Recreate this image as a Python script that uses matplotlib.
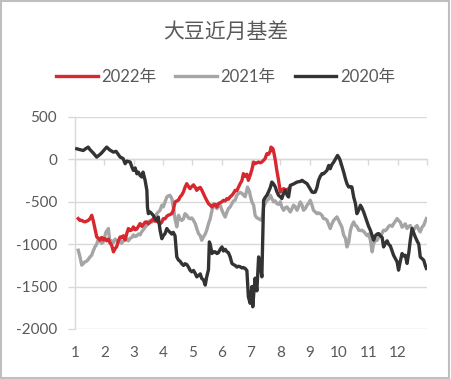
import matplotlib
matplotlib.use("Agg")
import matplotlib.pyplot as plt
from matplotlib.patches import Rectangle

plt.rcParams['font.family'] = ['Lato', 'Noto Sans CJK SC', 'DejaVu Sans']

title = "大豆近月基差"
series_names = ["2022年", "2021年", "2020年"]
month_labels = ["1", "2", "3", "4", "5", "6", "7", "8", "9", "10", "11", "12"]
y_ticks = [500, 0, -500, -1000, -1500, -2000]

# ---- 2022 ----
x2022 = [1.11, 1.17, 1.23, 1.28, 1.34, 1.45, 1.51, 1.57, 1.62, 1.68, 1.74, 1.80, 1.85, 1.91, 1.97,
         2.02, 2.08, 2.14, 2.19, 2.25, 2.31, 2.37, 2.42, 2.48, 2.54, 2.59, 2.65, 2.71, 2.76, 2.82,
         2.88, 2.94, 2.99, 3.05, 3.11, 3.16, 3.22, 3.28, 3.33, 3.39, 3.45, 3.50, 3.56, 3.62, 3.67,
         3.73, 3.79, 3.84, 3.90, 3.96, 4.01, 4.07, 4.13, 4.18, 4.24, 4.30, 4.35, 4.41, 4.47, 4.53,
         4.58, 4.64, 4.70, 4.75, 4.81, 4.87, 4.92, 4.98, 5.04, 5.10, 5.15, 5.21, 5.27, 5.32, 5.38,
         5.44, 5.49, 5.55, 5.61, 5.67, 5.72, 5.78, 5.84, 5.89, 5.95, 6.01, 6.06, 6.12, 6.18, 6.23,
         6.29, 6.35, 6.40, 6.46, 6.52, 6.57, 6.63, 6.69, 6.74, 6.80, 6.86, 6.91, 6.97, 7.03, 7.09,
         7.14, 7.20, 7.26, 7.31, 7.37, 7.43, 7.48, 7.54, 7.60, 7.66, 7.68, 7.75, 7.79, 7.83, 7.88,
         7.94, 8.00, 8.05, 8.11, 8.17, 8.23, 8.28]
v2022 = [-698, -720, -718, -730, -737, -720, -700, -659, -720, -815, -914, -930, -953, -920, -950,
         -933, -960, -940, -980, -1012, -1090, -1050, -1030, -960, -914, -920, -900, -950, -880, -815,
         -840, -830, -796, -830, -820, -790, -757, -790, -770, -740, -737, -760, -740, -720, -698,
         -730, -720, -740, -760, -740, -698, -700, -670, -659, -650, -640, -600, -502, -490, -480,
         -443, -420, -380, -330, -286, -320, -345, -320, -300, -330, -365, -340, -330, -360, -404,
         -450, -482, -521, -540, -561, -540, -530, -561, -521, -510, -500, -482, -490, -462, -470,
         -440, -424, -400, -365, -370, -330, -286, -250, -168, -200, -175, -247, -188, -120, -31,
         -50, -40, -31, -40, -31, -10, 8, 67, 60, 100, 145, 125, 60, -12, -130,
         -247, -385, -360, -345, -355, -365, -345]

# ---- 2021 ----
x2021 = [1.11, 1.17, 1.23, 1.28, 1.34, 1.40, 1.45, 1.51, 1.57, 1.62, 1.68, 1.74, 1.80, 1.85, 1.91,
         1.97, 2.02, 2.06, 2.14, 2.19, 2.25, 2.31, 2.37, 2.42, 2.48, 2.54, 2.59, 2.65, 2.71, 2.76,
         2.82, 2.88, 2.94, 2.99, 3.05, 3.11, 3.16, 3.22, 3.28, 3.33, 3.39, 3.45, 3.50, 3.56, 3.62,
         3.67, 3.73, 3.79, 3.84, 3.90, 3.96, 4.01, 4.07, 4.13, 4.18, 4.24, 4.30, 4.35, 4.41, 4.47,
         4.53, 4.58, 4.64, 4.70, 4.75, 4.81, 4.87, 4.92, 4.98, 5.04, 5.10, 5.15, 5.21, 5.27, 5.32,
         5.38, 5.44, 5.49, 5.55, 5.61, 5.67, 5.72, 5.78, 5.84, 5.89, 5.95, 6.01, 6.06, 6.12, 6.18,
         6.23, 6.29, 6.35, 6.40, 6.46, 6.52, 6.57, 6.63, 6.69, 6.74, 6.80, 6.86, 6.88, 6.95, 6.97,
         7.03, 7.09, 7.14, 7.20, 7.26, 7.31, 7.37, 7.43, 7.48, 7.54, 7.60, 7.66, 7.71, 7.77, 7.83,
         7.88, 7.94, 8.00, 8.05, 8.11, 8.17, 8.23, 8.28, 8.34, 8.40, 8.45, 8.51, 8.57, 8.62, 8.68,
         8.74, 8.79, 8.85, 8.91, 8.96, 9.02, 9.08, 9.13, 9.19, 9.25, 9.30, 9.36, 9.42, 9.47, 9.53,
         9.59, 9.65, 9.70, 9.76, 9.82, 9.87, 9.93, 9.99, 10.04, 10.10, 10.16, 10.22, 10.27, 10.33, 10.39,
         10.44, 10.50, 10.56, 10.61, 10.67, 10.73, 10.78, 10.84, 10.90, 10.96, 11.01, 11.07, 11.13, 11.18, 11.24,
         11.30, 11.35, 11.41, 11.47, 11.52, 11.58, 11.64, 11.69, 11.75, 11.81, 11.86, 11.92, 11.98, 12.03, 12.09,
         12.15, 12.21, 12.26, 12.32, 12.38, 12.43, 12.49, 12.54, 12.60, 12.66, 12.72, 12.77, 12.83, 12.89, 12.94,
         12.98]
v2021 = [-1071, -1150, -1247, -1230, -1208, -1200, -1180, -1150, -1130, -1080, -1032, -1000, -933, -960, -990,
         -973, -900, -855, -815, -992, -960, -980, -940, -960, -980, -950, -990, -960, -950, -940,
         -960, -930, -920, -890, -910, -900, -880, -890, -850, -830, -800, -776, -750, -720, -740,
         -718, -700, -640, -620, -600, -540, -560, -500, -443, -430, -424, -460, -560, -700, -796,
         -660, -700, -720, -700, -640, -659, -690, -700, -690, -720, -757, -815, -875, -900, -953,
         -914, -880, -835, -760, -698, -600, -521, -560, -580, -540, -540, -600, -640, -680, -620,
         -580, -560, -521, -490, -480, -420, -404, -390, -400, -420, -440, -360, -326, -380, -420,
         -500, -541, -659, -690, -698, -710, -718, -561, -520, -482, -470, -424, -460, -500, -490,
         -521, -530, -500, -560, -600, -570, -560, -590, -620, -580, -540, -560, -600, -560, -502,
         -540, -600, -580, -540, -520, -482, -540, -600, -620, -640, -630, -640, -660, -698, -700,
         -718, -770, -815, -760, -718, -700, -678, -720, -757, -800, -894, -930, -1032, -980, -835,
         -780, -737, -780, -790, -835, -840, -835, -850, -875, -900, -880, -950, -1090, -990, -960,
         -953, -920, -900, -870, -835, -840, -820, -790, -776, -790, -760, -730, -698, -720, -740,
         -800, -780, -760, -815, -790, -780, -820, -835, -800, -780, -830, -855, -800, -776, -730,
         -698]

# ---- 2020 ----
x2020 = [1.06, 1.17, 1.28, 1.38, 1.45, 1.51, 1.61, 1.74, 1.89, 2.08, 2.19, 2.31, 2.40, 2.54, 2.64,
         2.71, 2.77, 2.88, 2.94, 2.99, 3.05, 3.11, 3.16, 3.22, 3.28, 3.32, 3.39, 3.45, 3.47, 3.50,
         3.56, 3.67, 3.73, 3.79, 3.84, 3.90, 3.96, 4.01, 4.07, 4.13, 4.18, 4.30, 4.35, 4.41, 4.47,
         4.53, 4.58, 4.64, 4.70, 4.75, 4.81, 4.87, 4.92, 4.98, 5.04, 5.10, 5.15, 5.21, 5.27, 5.32,
         5.38, 5.44, 5.49, 5.55, 5.58, 5.61, 5.67, 5.72, 5.78, 5.84, 5.89, 5.95, 6.01, 6.06, 6.12,
         6.18, 6.23, 6.29, 6.35, 6.40, 6.46, 6.52, 6.57, 6.63, 6.69, 6.74, 6.80, 6.86, 6.91, 6.97,
         7.03, 7.06, 7.09, 7.14, 7.20, 7.26, 7.31, 7.37, 7.41, 7.43, 7.48, 7.54, 7.60, 7.66, 7.71,
         7.77, 7.83, 7.88, 7.94, 8.00, 8.05, 8.11, 8.17, 8.23, 8.28, 8.34, 8.45, 8.57, 8.68, 8.74,
         8.79, 8.91, 9.02, 9.08, 9.13, 9.19, 9.25, 9.30, 9.36, 9.42, 9.47, 9.53, 9.59, 9.65, 9.70,
         9.76, 9.82, 9.87, 9.95, 10.00, 10.04, 10.10, 10.16, 10.22, 10.27, 10.33, 10.39, 10.44, 10.50, 10.56,
         10.61, 10.67, 10.73, 10.78, 10.84, 10.90, 10.96, 11.01, 11.07, 11.13, 11.18, 11.24, 11.30, 11.35, 11.41,
         11.47, 11.52, 11.58, 11.64, 11.69, 11.75, 11.81, 11.86, 11.92, 11.98, 12.03, 12.09, 12.15, 12.21, 12.26,
         12.32, 12.38, 12.43, 12.49, 12.54, 12.60, 12.66, 12.72, 12.77, 12.83, 12.89, 12.94, 12.98]
v2020 = [125, 115, 105, 130, 145, 115, 80, 27, 70, 145, 110, 86, 95, 27, 10,
         -51, -20, -31, -90, -130, -100, -170, -150, -190, -208, -150, -247, -365, -560, -640,
         -620, -660, -700, -720, -680, -835, -935, -900, -875, -815, -840, -880, -860, -900, -1150,
         -1188, -1200, -1230, -1250, -1230, -1240, -1270, -1306, -1326, -1310, -1345, -1385, -1370, -1350, -1404,
         -1420, -1482, -1385, -1300, -973, -1000, -1110, -1090, -1090, -1110, -1100, -1060, -1032, -1080, -1060,
         -1090, -1100, -1150, -1227, -1240, -1250, -1270, -1260, -1266, -1280, -1275, -1286, -1310, -1620, -1697,
         -1500, -1738, -1600, -1400, -1550, -1150, -1227, -1385, -757, -482, -450, -424, -380, -330, -267,
         -290, -326, -380, -424, -440, -462, -400, -365, -420, -443, -306, -290, -267, -260, -247,
         -260, -286, -350, -385, -390, -385, -330, -250, -200, -168, -170, -150, -130, -71, -110,
         -60, -31, 0, 47, 20, -12, -80, -150, -230, -286, -326, -320, -326, -443, -521,
         -640, -600, -541, -570, -620, -680, -737, -790, -835, -900, -953, -900, -880, -875, -900,
         -920, -1032, -990, -960, -1000, -1020, -1080, -1130, -1170, -1208, -1306, -1200, -1110, -1140, -1130,
         -1227, -1100, -953, -815, -860, -914, -960, -1000, -1150, -1170, -1190, -1250, -1286]

colors = ["#D7282F", "#A5A5A5", "#333333"]
grid_color = "#D9D9D9"
text_color = "#595959"

fig = plt.figure(figsize=(4.51, 3.79), dpi=100)
ax = fig.add_axes([75 / 451, 1 - 329 / 379, 352 / 451, 212 / 379])

l21, = ax.plot(x2021, v2021, color=colors[1], lw=2.4, solid_joinstyle='round', zorder=3)
l22, = ax.plot(x2022, v2022, color=colors[0], lw=2.4, solid_joinstyle='round', zorder=4)
l20, = ax.plot(x2020, v2020, color=colors[2], lw=2.4, solid_joinstyle='round', zorder=5)

ax.set_xlim(1, 13)
ax.set_ylim(-2000, 500)
ax.set_yticks(y_ticks)
ax.set_yticklabels([str(t) for t in y_ticks])
ax.yaxis.grid(True, color=grid_color, lw=1.0, zorder=0)
ax.set_axisbelow(True)

for s in ["top", "right"]:
    ax.spines[s].set_visible(False)
ax.spines["left"].set_color(grid_color)
ax.spines["left"].set_linewidth(1.0)
ax.spines["bottom"].set_position(("data", 0))
ax.spines["bottom"].set_color(grid_color)
ax.spines["bottom"].set_linewidth(1.0)
ax.spines["bottom"].set_zorder(1)

ax.set_xticks(range(1, 14))
ax.set_xticklabels([])
ax.tick_params(axis="x", direction="out", length=4, width=1.0, color=grid_color)
ax.tick_params(axis="y", direction="out", length=5, width=1.0, color=grid_color,
               labelcolor=text_color, labelsize=11, pad=8)

xt = ax.get_xaxis_transform()
for i, lab in enumerate(month_labels):
    ax.text(i + 1, -0.115, lab, transform=xt, ha="center", va="center",
            fontsize=11, color=text_color)

fig.text(0.5, 1 - 32 / 379, title, ha="center", va="center", fontsize=15,
         color=text_color, family=['Noto Sans CJK SC'])

fig.legend([l22, l21, l20], series_names, loc="center", bbox_to_anchor=(0.5, 1 - 77 / 379),
           ncol=3, frameon=False, fontsize=12, handlelength=2.5, handletextpad=0.2,
           columnspacing=1.15, labelcolor=text_color)

fig.patches.append(Rectangle((0.002, 0.003), 0.994, 0.994, transform=fig.transFigure,
                             fill=False, edgecolor="#BFBFBF", lw=1.5))

fig.savefig("out.png", dpi=100)
